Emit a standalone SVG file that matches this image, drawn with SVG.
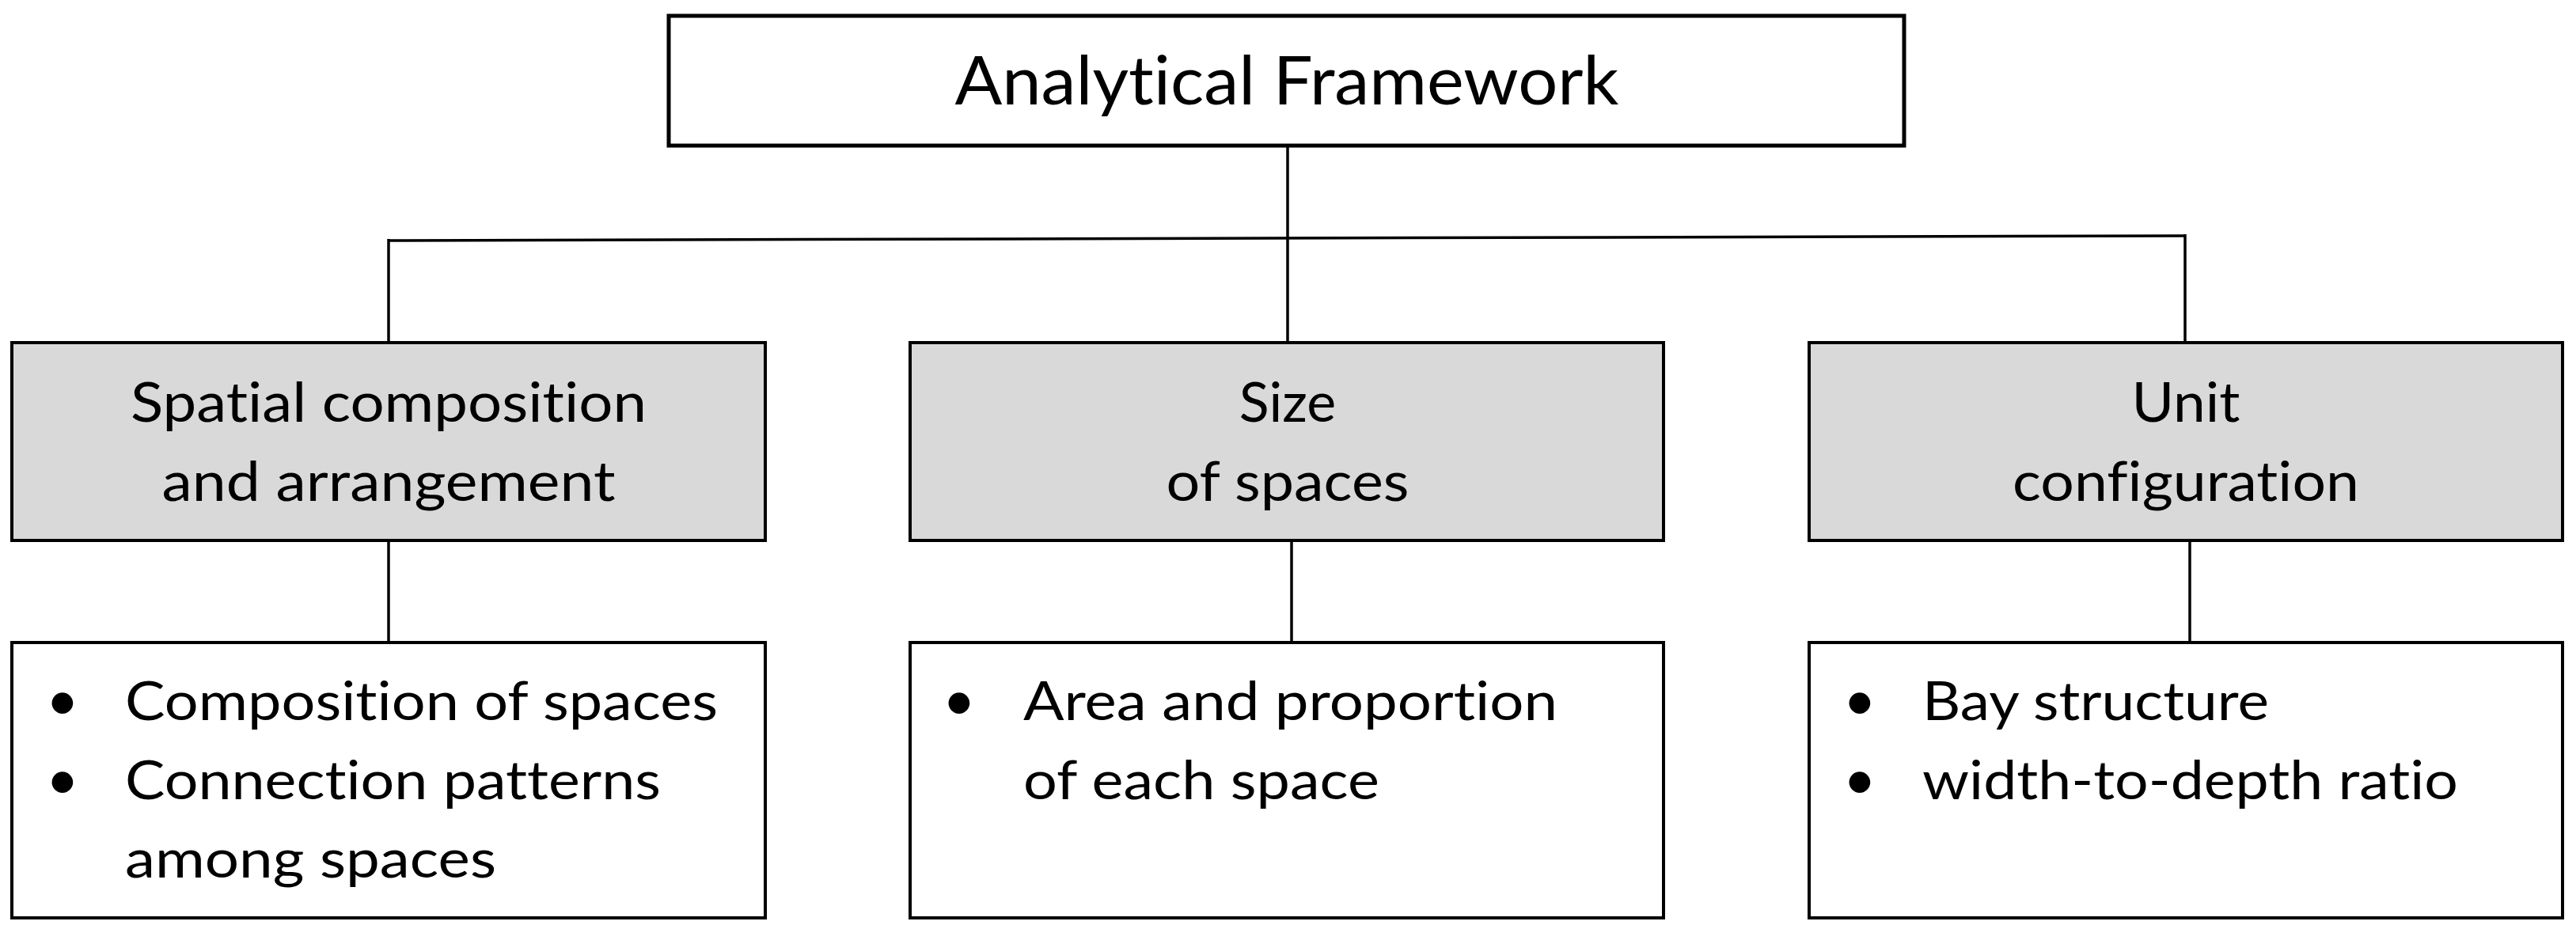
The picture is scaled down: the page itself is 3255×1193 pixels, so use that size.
<svg xmlns="http://www.w3.org/2000/svg" width="3255" height="1193" viewBox="0 0 3255 1193">
  <style>
    .box { fill: #ffffff; stroke: #000000; stroke-width: 4; }
    .top { fill: #ffffff; stroke: #000000; stroke-width: 5; }
    .cat { fill: #d9d9d9; stroke: #000000; stroke-width: 4; }
    .conn { fill: none; stroke: #000000; stroke-width: 3.5; }
    text { font-family: "Lato", "Open Sans", "Liberation Sans", sans-serif; fill: #000000; font-variant-ligatures: none; font-feature-settings: "liga" 0, "clig" 0; }
    .title { font-size: 86px; text-anchor: middle; }
    .lbl { font-size: 70px; text-anchor: middle; }
    .item { font-size: 68px; }
    .bul { font-size: 72px; text-anchor: middle; }
  </style>

  <g id="connectors">
    <line class="conn" x1="1627" y1="184" x2="1627" y2="433"/>
    <line class="conn" x1="491" y1="304" x2="2761" y2="298"/>
    <line class="conn" x1="491" y1="302" x2="491" y2="433"/>
    <line class="conn" x1="2761" y1="296" x2="2761" y2="433"/>
    <line class="conn" x1="491" y1="683" x2="491" y2="812"/>
    <line class="conn" x1="1632" y1="683" x2="1632" y2="812"/>
    <line class="conn" x1="2767" y1="683" x2="2767" y2="812"/>
  </g>

  <g id="node-analytical-framework">
    <rect class="top" x="845" y="20" width="1561" height="164"/>
    <text class="title" x="1626" y="132" textLength="839" lengthAdjust="spacingAndGlyphs">Analytical Framework</text>
  </g>

  <g id="node-spatial-composition">
    <rect class="cat" x="15" y="433" width="952" height="250"/>
    <text class="lbl" x="491" y="533" textLength="652" lengthAdjust="spacingAndGlyphs">Spatial composition</text>
    <text class="lbl" x="491" y="633" textLength="573" lengthAdjust="spacingAndGlyphs">and arrangement</text>
  </g>

  <g id="node-size-of-spaces">
    <rect class="cat" x="1150" y="433" width="952" height="250"/>
    <text class="lbl" x="1627" y="533">Size</text>
    <text class="lbl" x="1627" y="633" textLength="307" lengthAdjust="spacingAndGlyphs">of spaces</text>
  </g>

  <g id="node-unit-configuration">
    <rect class="cat" x="2286" y="433" width="952" height="250"/>
    <text class="lbl" x="2762" y="533" textLength="137" lengthAdjust="spacingAndGlyphs">Unit</text>
    <text class="lbl" x="2762" y="633" textLength="438" lengthAdjust="spacingAndGlyphs">configuration</text>
  </g>

  <g id="node-spatial-details">
    <rect class="box" x="15" y="812" width="952" height="348"/>
    <text class="bul" x="79" y="910">•</text>
    <text class="item" x="158" y="910" textLength="749" lengthAdjust="spacingAndGlyphs">Composition of spaces</text>
    <text class="bul" x="79" y="1010">•</text>
    <text class="item" x="158" y="1010" textLength="677" lengthAdjust="spacingAndGlyphs">Connection patterns</text>
    <text class="item" x="158" y="1109" textLength="469" lengthAdjust="spacingAndGlyphs">among spaces</text>
  </g>

  <g id="node-size-details">
    <rect class="box" x="1150" y="812" width="952" height="348"/>
    <text class="bul" x="1212" y="910">•</text>
    <text class="item" x="1293" y="910" textLength="675" lengthAdjust="spacingAndGlyphs">Area and proportion</text>
    <text class="item" x="1293" y="1010" textLength="450" lengthAdjust="spacingAndGlyphs">of each space</text>
  </g>

  <g id="node-unit-details">
    <rect class="box" x="2286" y="812" width="952" height="348"/>
    <text class="bul" x="2350" y="910">•</text>
    <text class="item" x="2429" y="910" textLength="438" lengthAdjust="spacingAndGlyphs">Bay structure</text>
    <text class="bul" x="2350" y="1010">•</text>
    <text class="item" x="2429" y="1010" textLength="677" lengthAdjust="spacingAndGlyphs">width-to-depth ratio</text>
  </g>
</svg>
